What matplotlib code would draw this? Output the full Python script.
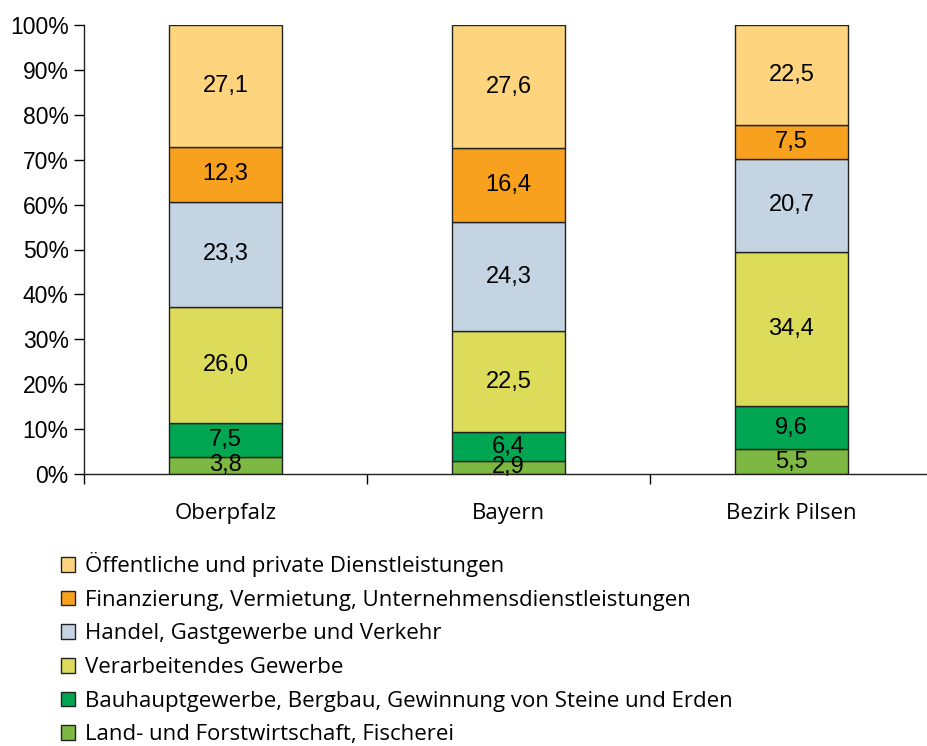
import numpy as np
import matplotlib.pyplot as plt
from matplotlib.patches import Patch

regions = ['Oberpfalz', 'Bayern', 'Bezirk Pilsen']

# sectors from bottom to top
sectors = [
    'Land- und Forstwirtschaft, Fischerei',
    'Bauhauptgewerbe, Bergbau, Gewinnung von Steine und Erden',
    'Verarbeitendes Gewerbe',
    'Handel, Gastgewerbe und Verkehr',
    'Finanzierung, Vermietung, Unternehmensdienstleistungen',
    'Öffentliche und private Dienstleistungen',
]
land = [3.8, 2.9, 5.5]
bau = [7.5, 6.4, 9.6]
verarb = [26.0, 22.5, 34.4]
handel = [23.3, 24.3, 20.7]
finanz = [12.3, 16.4, 7.5]
oeffentl = [27.1, 27.6, 22.5]
series = [land, bau, verarb, handel, finanz, oeffentl]

colors = ['#7db843', '#00a651', '#dcdc5a', '#c5d4e3', '#f7a11f', '#fed47e']

fig = plt.figure(figsize=(9.28, 7.46), dpi=100)
ax = fig.add_axes([84 / 928, 1 - 474 / 746, 849 / 928, 449 / 746])

x = np.arange(len(regions))
bottom = np.zeros(len(regions))
for vals, col in zip(series, colors):
    vals = np.array(vals)
    h = np.minimum(vals, 100 - bottom)
    ax.bar(x, h, bottom=bottom, width=0.4, color=col, edgecolor='#222222', linewidth=1.0)
    for xi, b, v, hh in zip(x, bottom, vals, h):
        ax.text(xi, b + hh / 2, f"{v:.1f}".replace('.', ','), ha='center', va='center',
                fontsize=17, family='Liberation Sans', color='black')
    bottom = bottom + h

ax.set_xlim(-0.5, 2.5)
ax.set_ylim(0, 100)
ax.set_yticks(np.arange(0, 101, 10))
ax.set_yticklabels([f"{v}%" for v in range(0, 101, 10)], family='Liberation Sans', fontsize=16.5)
ax.tick_params(axis='y', direction='out', length=7, width=1, pad=4, colors='black')

ax.set_xticks([-0.5, 0.5, 1.5, 2.5])
ax.set_xticklabels([])
ax.set_xticks(x, minor=True)
ax.set_xticklabels(regions, minor=True, family='Open Sans', fontsize=16)
ax.tick_params(axis='x', which='major', direction='out', length=7, width=1)
ax.tick_params(axis='x', which='minor', length=0, pad=21)

for s in ['top', 'right']:
    ax.spines[s].set_visible(False)
for s in ['left', 'bottom']:
    ax.spines[s].set_color('#222222')
    ax.spines[s].set_linewidth(1.0)

handles = [Patch(facecolor=c, edgecolor='#222222', linewidth=1.0) for c in colors[::-1]]
leg = fig.legend(handles, sectors[::-1], loc='upper left', bbox_to_anchor=(50 / 928, 1 - 541 / 746),
                 frameon=False, borderpad=0, handlelength=0.64, handleheight=0.64, handletextpad=0.44,
                 labelspacing=0.57, prop={'family': 'Open Sans', 'size': 16})

fig.savefig('out.png', dpi=100)
